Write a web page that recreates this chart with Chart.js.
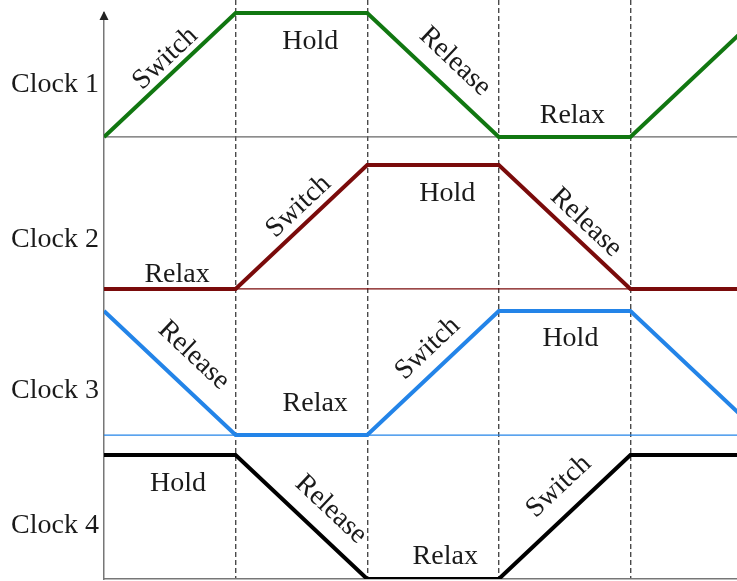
<!DOCTYPE html>
<html>
<head>
<meta charset="utf-8">
<script src="https://cdn.jsdelivr.net/npm/chart.js@4/dist/chart.umd.min.js"></script>
<style>
  html, body { margin: 0; padding: 0; background: #ffffff; }
  #wrap { width: 737px; height: 581px; }
</style>
</head>
<body>
<div id="wrap"><canvas id="c" width="737" height="581"></canvas></div>
<script>
// ---- data ----
const times = [0, 1, 2, 3, 4, 5];
const clock1 = [0, 1, 1, 0, 0, 1];
const clock2 = [0, 0, 1, 1, 0, 0];
const clock3 = [1, 0, 0, 1, 1, 0];
const clock4 = [1, 1, 0, 0, 1, 1];
const laneBase = [3.565, 2.339, 1.161, 0];
const clockNames = ['Clock 1', 'Clock 2', 'Clock 3', 'Clock 4'];
const clockTickValues = [3.99, 2.74, 1.52, 0.43];
// phase labels: lane, text, time, level above lane base, slope (1 rising, -1 falling, 0 flat)
const phaseLane  = [0, 0, 0, 0, 1, 1, 1, 1, 2, 2, 2, 2, 3, 3, 3, 3];
const phaseText  = ['Switch', 'Hold', 'Release', 'Relax',
                    'Relax', 'Switch', 'Hold', 'Release',
                    'Release', 'Relax', 'Switch', 'Hold',
                    'Hold', 'Release', 'Relax', 'Switch'];
const phaseT     = [0.456, 1.567, 2.677, 3.559,
                    0.555, 1.468, 2.608, 3.673,
                    0.692, 1.605, 2.449, 3.544,
                    0.563, 1.734, 2.593, 3.445];
const phaseV     = [0.645, 0.782, 0.620, 0.185,
                    0.129, 0.677, 0.782, 0.548,
                    0.654, 0.266, 0.710, 0.791,
                    0.782, 0.573, 0.194, 0.758];
const phaseSlope = [1, 0, -1, 0,
                    0, 1, 0, -1,
                    -1, 0, 1, 0,
                    0, -1, 0, 1];

const clocks = [clock1, clock2, clock3, clock4];
const colors = ['#117711', '#7a0b0b', '#2384e8', '#000000'];
const baseColors = ['#666666', '#7a0b0b', '#2384e8', null];

const FONT = "'Liberation Serif', 'Times New Roman', serif";

const datasets = [];
// thin baselines
laneBase.forEach((b, k) => {
  if (!baseColors[k]) return;
  datasets.push({
    data: times.map(t => ({ x: t, y: b })),
    borderColor: baseColors[k],
    borderWidth: 1.3,
    pointRadius: 0,
    tension: 0,
    order: 10
  });
});
// thick waveforms
clocks.forEach((c, k) => {
  datasets.push({
    data: times.map((t, i) => ({ x: t, y: laneBase[k] + c[i] })),
    borderColor: colors[k],
    borderWidth: 4,
    pointRadius: 0,
    tension: 0,
    order: 1
  });
});

const labelPlugin = {
  id: 'phaseLabels',
  afterDatasetsDraw(chart) {
    const ctx = chart.ctx;
    const xs = chart.scales.x, ys = chart.scales.y;
    const dx = xs.getPixelForValue(1) - xs.getPixelForValue(0);
    const dy = ys.getPixelForValue(0) - ys.getPixelForValue(1);
    const ang = Math.atan2(dy, dx);
    ctx.save();
    ctx.font = '28px ' + FONT;
    ctx.fillStyle = '#1a1a1a';
    ctx.textAlign = 'center';
    ctx.textBaseline = 'middle';
    for (let i = 0; i < phaseText.length; i++) {
      const px = xs.getPixelForValue(phaseT[i]);
      const py = ys.getPixelForValue(laneBase[phaseLane[i]] + phaseV[i]);
      ctx.save();
      ctx.translate(px, py);
      ctx.rotate(-phaseSlope[i] * ang);
      ctx.fillText(phaseText[i], 0, 2);
      ctx.restore();
    }
    // axis arrow head
    const ax = xs.left;
    ctx.fillStyle = '#ffffff';
    ctx.fillRect(ax - 4, 0, 8, 12);
    ctx.fillStyle = '#222222';
    ctx.beginPath();
    ctx.moveTo(ax, 11);
    ctx.lineTo(ax - 4.5, 20);
    ctx.lineTo(ax + 4.5, 20);
    ctx.closePath();
    ctx.fill();
    ctx.restore();
  }
};

new Chart(document.getElementById('c'), {
  type: 'line',
  data: { datasets },
  options: {
    responsive: false,
    animation: false,
    events: [],
    layout: { padding: { left: 0, right: 0, top: 0, bottom: 0 } },
    plugins: { legend: { display: false }, tooltip: { enabled: false }, title: { display: false } },
    scales: {
      x: {
        type: 'linear',
        min: 0,
        max: 4.81,
        ticks: { display: false, stepSize: 1 },
        grid: {
          display: true,
          drawTicks: false,
          lineWidth: 1.4,
          color: (ctx) => (ctx.tick && ctx.tick.value > 0 && ctx.tick.value < 4.8) ? '#4a4a4a' : 'rgba(0,0,0,0)'
        },
        border: { display: true, color: '#777777', width: 1.5, dash: [5, 3] },
        afterFit(scale) { scale.height = 2; scale.paddingLeft = 0; scale.paddingRight = 0; }
      },
      y: {
        type: 'linear',
        min: 0,
        max: 579 / 124,
        afterBuildTicks(scale) { scale.ticks = clockTickValues.map(v => ({ value: v })); },
        ticks: {
          padding: 5,
          color: '#1a1a1a',
          font: { family: FONT, size: 28 },
          callback: (value, index) => clockNames[index]
        },
        grid: { display: false, drawTicks: false },
        border: { display: true, color: '#777777', width: 1.5 },
        afterFit(scale) { scale.width = 104; scale.paddingTop = 0; scale.paddingBottom = 0; }
      }
    }
  },
  plugins: [labelPlugin]
});
</script>
</body>
</html>
